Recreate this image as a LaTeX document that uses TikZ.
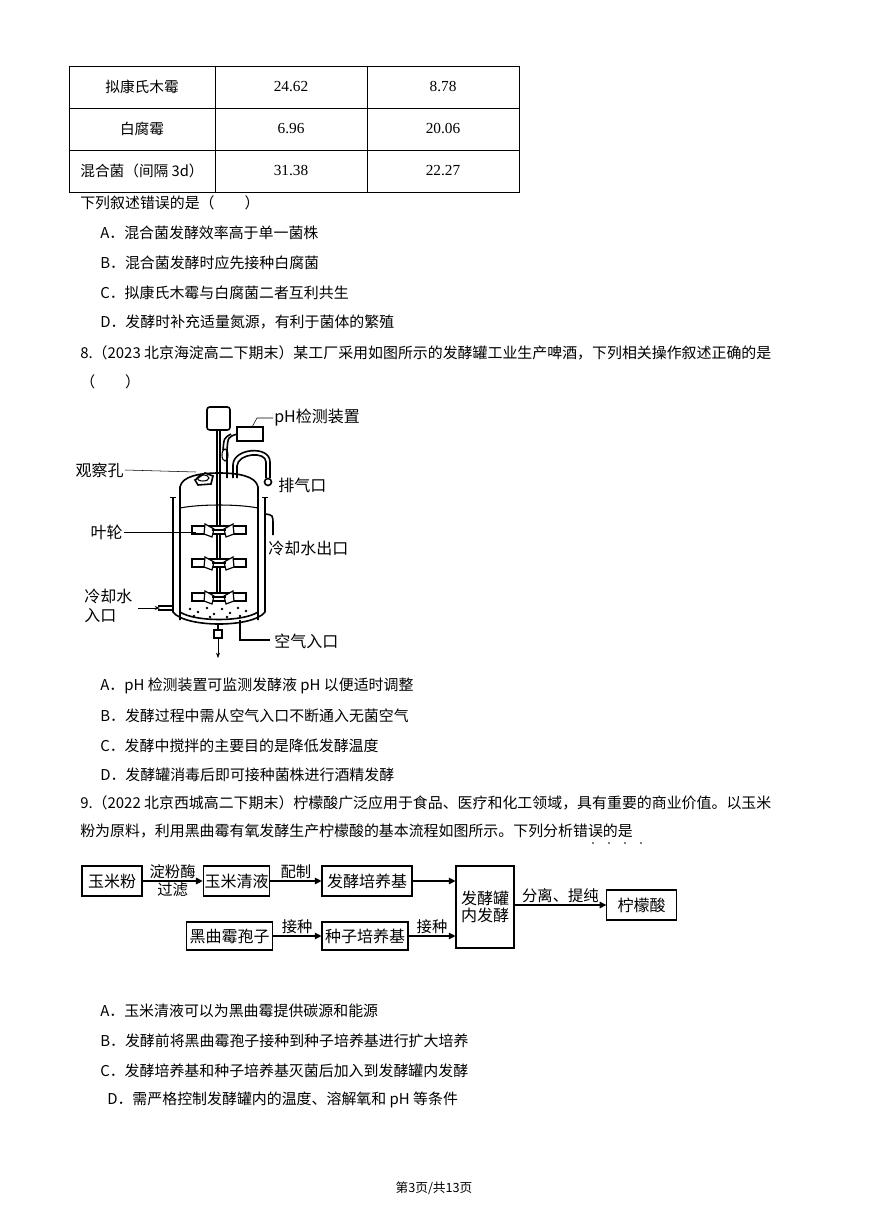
\documentclass[tikz,border=0pt]{standalone}
\usepackage{fontspec}
\setmainfont{Liberation Serif}
\newfontfamily\cjk{Noto Sans CJK SC}
\usetikzlibrary{arrows.meta,positioning}
\begin{document}
\begin{tikzpicture}[x=0.75pt,y=-0.75pt,
    txt/.style={anchor=west,inner sep=0pt,font=\cjk\fontsize{11.2}{13}\selectfont},
    fig/.style={inner sep=0pt,font=\cjk\fontsize{12}{14}\selectfont},
    flowbox/.style={draw,thick,inner sep=0pt,font=\cjk\fontsize{12}{13}\selectfont},
    flow/.style={thick,-{Triangle[length=5pt,width=5pt]}},
    lbl/.style={inner sep=1pt,font=\cjk\fontsize{11.5}{13}\selectfont},
    vessel/.style={line width=1.2pt},
    blade/.style={line width=0.9pt,fill=white}
  ]
  \useasboundingbox[fill=white] (0,0) rectangle (868,1227);

  % 表格
  \draw (69,66) rectangle (519,192);
  \foreach \y in {108,150} \draw (69,\y) -- (519,\y);
  \foreach \x in {215,367} \draw (\x,66) -- (\x,192);
  \foreach \name/\a/\b [count=\i] in {拟康氏木霉/24.62/8.78,白腐霉/6.96/20.06,混合菌（间隔 3d）/31.38/22.27}{
    \node[fig,font=\cjk\fontsize{11}{13}\selectfont] (row\i) at (142,45+42*\i) {\name};
    \node[fig,font=\fontsize{11.5}{13}\selectfont] (ra\i) at (291,45+42*\i) {\a};
    \node[fig,font=\fontsize{11.5}{13}\selectfont] (rb\i) at (443,45+42*\i) {\b};
  }

  % 第7题选项
  \node[txt] (q7) at (80,203) {下列叙述错误的是（　　）};
  \node[txt] (o7a) at (100,233) {A．混合菌发酵效率高于单一菌株};
  \node[txt] (o7b) at (100,263) {B．混合菌发酵时应先接种白腐菌};
  \node[txt] (o7c) at (100,293) {C．拟康氏木霉与白腐菌二者互利共生};
  \node[txt] (o7d) at (100,322) {D．发酵时补充适量氮源，有利于菌体的繁殖};

  % 第8题
  \node[txt] (q8) at (80,353) {8.（2023 北京海淀高二下期末）某工厂采用如图所示的发酵罐工业生产啤酒，下列相关操作叙述正确的是};
  \node[txt] (q8b) at (80,382) {（　　）};

  % 发酵罐
  \draw[vessel,rounded corners=2pt] (207,407) rectangle (230,430);
  \draw[line width=1pt] (217,430) -- (217,600);
  \draw[line width=1pt] (220,430) -- (220,600);
  \draw[vessel] (237,427) rectangle (263,441);
  \draw (252,427) -- (257,418) -- (273,418);
  \node[fig,anchor=west] (ph) at (274,418) {pH检测装置};
  \draw[vessel] (237,434) .. controls (228,437) .. (227,450) -- (227,478);
  \draw[vessel] (231,434) .. controls (224,438) .. (223,450);
  \draw[line width=0.8pt] (225,455) ellipse (3 and 6);
  % 罐体
  \draw[vessel] (180,620) -- (180,487) .. controls (182,476) and (200,473) .. (219,473)
    .. controls (238,473) and (256,476) .. (258,487) -- (258,620);
  \draw[vessel] (180,612) .. controls (195,622) and (243,622) .. (258,612);
  \draw[vessel] (173,497) -- (173,612) .. controls (185,628) and (253,628) .. (265,612) -- (265,497);
  \draw (170,497) -- (176,497) (262,497) -- (268,497);
  \draw[line width=0.8pt] (180,508) .. controls (200,504) and (238,504) .. (258,508);
  % 观察孔
  \draw[vessel,fill=white] (195,480) -- (205,473) -- (213,476) -- (211,484) -- (198,485) -- cycle;
  \draw[line width=0.8pt] (203,478) ellipse (6 and 3);
  \draw (125,470) -- (196,472);
  \node[fig,anchor=east] (hole) at (124,470) {观察孔};
  % 排气口
  \draw[vessel] (233,478) -- (233,465) .. controls (233,448) and (270,445) .. (270,462) -- (270,478);
  \draw[vessel] (237,478) -- (237,466) .. controls (238,453) and (266,451) .. (266,462) -- (266,478);
  \draw[vessel,fill=white] (268,482) circle (3.5);
  \node[fig,anchor=west] (vent) at (278,485) {排气口};
  % 叶轮
  \foreach \y in {530,563,597}{
    \draw[blade] (192,\y-4) rectangle (246,\y+4);
    \draw[blade] (205,\y-6) -- (214,\y-1) -- (212,\y+7) -- (204,\y+4) -- cycle;
    \draw[blade] (233,\y-6) -- (224,\y-1) -- (226,\y+7) -- (234,\y+4) -- cycle;
    \draw[line width=1pt] (212,\y) -- (226,\y);
  }
  \draw (124,532) -- (196,532);
  \node[fig,anchor=east] (imp) at (123,532) {叶轮};
  % 气泡
  \foreach \x/\y in {190/609,198/612,207/608,214/614,222/609,230/613,238/608,246/611,194/616,227/617,240/616,210/617}
    \fill (\x,\y) circle (1.4);
  % 冷却水出口
  \draw[vessel] (265,514) .. controls (273,515) .. (273,525) -- (273,535);
  \node[fig,anchor=west] (cout) at (268,548) {冷却水出口};
  % 冷却水入口
  \coordinate (cin) at (138,608);
  \draw[-{Stealth[length=4pt]}] (cin) -- (160,608);
  \draw[vessel] (158,606) -- (173,606) (158,610) -- (173,610);
  \node[fig,anchor=west,align=left] (cinl) at (84,606) {冷却水\\入口};
  % 空气入口
  \draw[vessel] (240,620) -- (240,640) -- (270,640);
  \node[fig,anchor=west] (air) at (274,641) {空气入口};
  % 出料口
  \draw[line width=1pt] (218,624) -- (218,630);
  \draw[vessel,fill=white] (214,630) rectangle (222,638);
  \draw[-{Stealth[length=4pt]}] (218,638) -- (218,658);

  % 第8题选项
  \node[txt] (o8a) at (100,686) {A．pH 检测装置可监测发酵液 pH 以便适时调整};
  \node[txt] (o8b) at (100,716) {B．发酵过程中需从空气入口不断通入无菌空气};
  \node[txt] (o8c) at (100,746) {C．发酵中搅拌的主要目的是降低发酵温度};
  \node[txt] (o8d) at (100,775) {D．发酵罐消毒后即可接种菌株进行酒精发酵};

  % 第9题
  \node[txt] (q9) at (80,803) {9.（2022 北京西城高二下期末）柠檬酸广泛应用于食品、医疗和化工领域，具有重要的商业价值。以玉米};
  \node[txt] (q9b) at (80,831) {粉为原料，利用黑曲霉有氧发酵生产柠檬酸的基本流程如图所示。下列分析错误的是};
  \foreach \x in {593,609,625,641} \fill (\x,843) circle (0.9);

  % 流程图
  \node[flowbox,minimum width=45pt,minimum height=22.5pt] (corn) at (112,881) {玉米粉};
  \node[flowbox,minimum width=50pt,minimum height=22.5pt] (liquid) at (236.5,881) {玉米清液};
  \node[flowbox,minimum width=67.5pt,minimum height=22.5pt] (medium) at (367,881) {发酵培养基};
  \node[flowbox,minimum width=43.5pt,minimum height=61.5pt,align=center] (tank) at (485,907) {发酵罐\\内发酵};
  \node[flowbox,minimum width=52pt,minimum height=22.5pt] (acid) at (641.5,905) {柠檬酸};
  \node[flowbox,minimum width=64pt,minimum height=21pt] (spore) at (229.5,936) {黑曲霉孢子};
  \node[flowbox,minimum width=64.5pt,minimum height=21pt] (seed) at (365,936) {种子培养基};
  \draw[flow] (corn) -- node[lbl,above]{淀粉酶} node[lbl,below]{过滤} (liquid);
  \draw[flow] (liquid) -- node[lbl,above]{配制} (medium);
  \draw[flow] (medium) -- (medium -| tank.west);
  \draw[flow] (spore) -- node[lbl,above]{接种} (seed);
  \draw[flow] (seed) -- node[lbl,above]{接种} (seed -| tank.west);
  \draw[flow] (tank.east |- acid) -- node[lbl,above]{分离、提纯} (acid);

  % 第9题选项
  \node[txt] (o9a) at (100,1011) {A．玉米清液可以为黑曲霉提供碳源和能源};
  \node[txt] (o9b) at (100,1041) {B．发酵前将黑曲霉孢子接种到种子培养基进行扩大培养};
  \node[txt] (o9c) at (100,1071) {C．发酵培养基和种子培养基灭菌后加入到发酵罐内发酵};
  \node[txt] (o9d) at (107,1100) {D．需严格控制发酵罐内的温度、溶解氧和 pH 等条件};

  % 页脚
  \node[fig,font=\cjk\fontsize{9.5}{11}\selectfont] (foot) at (434,1188) {第3页/共13页};
\end{tikzpicture}
\end{document}
